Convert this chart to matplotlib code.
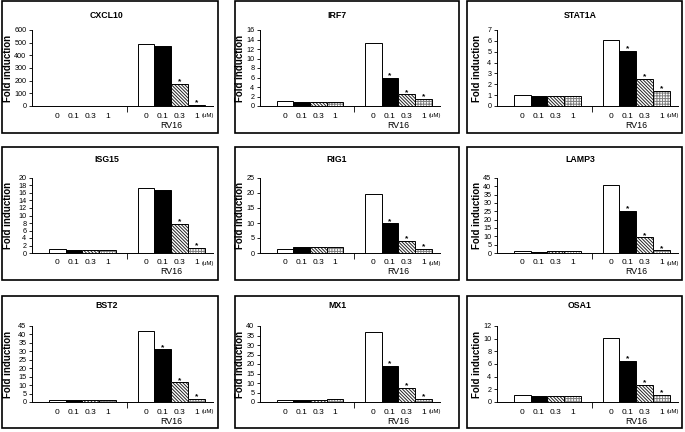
import matplotlib
matplotlib.use('Agg')
import matplotlib.pyplot as plt
from matplotlib.patches import Rectangle
from matplotlib.transforms import offset_copy

plt.rcParams['font.family'] = ['Liberation Sans', 'DejaVu Sans']
plt.rcParams['hatch.linewidth'] = 0.7

# ---------------- data ----------------
genes = ['CXCL10', 'IRF7', 'STAT1A', 'ISG15', 'RIG1', 'LAMP3', 'BST2', 'MX1', 'OSA1']
y_max = [600, 16, 7, 20, 25, 45, 45, 40, 12]
y_step = [100, 2, 1, 2, 5, 5, 5, 5, 2]
doses = ['0', '0.1', '0.3', '1']
group_label = 'RV16'
unit_label = '(uM)'
y_label = 'Fold induction'

mock_values = [
    [1.0, 1.0, 1.0, 1.0],
    [1.1, 0.9, 0.9, 0.9],
    [1.0, 0.93, 0.93, 0.93],
    [1.15, 0.8, 0.8, 0.7],
    [1.3, 2.0, 2.0, 2.0],
    [1.2, 0.6, 1.0, 1.0],
    [1.2, 1.0, 1.3, 1.3],
    [1.2, 0.8, 1.2, 1.5],
    [1.05, 0.9, 0.95, 0.95],
]
rv16_values = [
    [490, 475, 175, 8],
    [13.3, 6.0, 2.45, 1.5],
    [6.1, 5.05, 2.5, 1.4],
    [17.3, 16.9, 7.7, 1.33],
    [19.7, 9.9, 4.0, 1.45],
    [40.6, 25.4, 9.4, 1.6],
    [42.2, 31.1, 11.7, 2.0],
    [36.8, 18.9, 7.4, 1.6],
    [10.15, 6.45, 2.65, 1.15],
]
rv16_signif = [
    [False, False, True, True],
    [False, True, True, True],
    [False, True, True, True],
    [False, False, True, True],
    [False, True, True, True],
    [False, True, True, True],
    [False, True, True, True],
    [False, True, True, True],
    [False, True, True, True],
]

# ---------------- layout ----------------
W, H = 685, 432
fig = plt.figure(figsize=(W / 100, H / 100), dpi=100)

col_box = [(2, 218), (235, 459), (467, 682)]
row_box = [(1, 133), (147, 280), (296, 428)]
col_ax = [(32, 213), (260, 440), (497, 678)]
row_ax = [(30, 106), (178, 253), (326, 402)]
title_y = [15, 160, 306]
title_x = [107, 337, 580]
ylab_x = [8, 240, 477]


def fx(x):
    return x / W


def fy(y):
    return 1 - y / H


bar_fill = ['white', 'black', 'white', 'white']
bar_hatch = [None, None, '\\' * 10, '+' * 6]
hatch_col = [None, None, '#222222', '#808080']

x_end = 10.8
group_start = [1.0, 6.3]
mid_tick = 5.65

for i, gene in enumerate(genes):
    r, c = divmod(i, 3)
    bx0, bx1 = col_box[c]
    by0, by1 = row_box[r]
    fig.add_artist(Rectangle((fx(bx0), fy(by1)), fx(bx1) - fx(bx0), fy(by0) - fy(by1),
                             transform=fig.transFigure, fill=False, lw=1.2, ec='black'))
    ax0, ax1 = col_ax[c]
    ay0, ay1 = row_ax[r]
    ax = fig.add_axes([fx(ax0), fy(ay1), fx(ax1) - fx(ax0), fy(ay0) - fy(ay1)])
    ax.set_xlim(0, x_end)
    ax.set_ylim(0, y_max[i])
    for s in ['top', 'right']:
        ax.spines[s].set_visible(False)
    for s in ['left', 'bottom']:
        ax.spines[s].set_linewidth(0.7)
    ax.set_yticks(list(range(0, y_max[i] + 1, y_step[i])))
    ax.tick_params(axis='y', labelsize=5.2, length=2.5, width=0.6, pad=1.5)
    ax.set_xticks([mid_tick])
    ax.set_xticklabels([''])
    ax.tick_params(axis='x', length=4, width=0.6)

    lab_tr = offset_copy(ax.transData, fig, 0, -10, units='dots')
    for g, vals in enumerate([mock_values[i], rv16_values[i]]):
        xs = [group_start[g] + 0.5 + k for k in range(4)]
        for k in range(4):
            if bar_hatch[k]:
                ax.bar(xs[k], vals[k], width=1, color='white', edgecolor=hatch_col[k],
                       hatch=bar_hatch[k], lw=0)
                ax.bar(xs[k], vals[k], width=1, fill=False, edgecolor='black', lw=0.7)
            else:
                ax.bar(xs[k], vals[k], width=1, color=bar_fill[k], edgecolor='black', lw=0.7)
            ax.text(xs[k], 0, doses[k], transform=lab_tr, ha='center', va='center',
                    fontsize=6, clip_on=False)
            if g == 1 and rv16_signif[i][k]:
                ax.text(xs[k], vals[k], '*', ha='center', va='baseline', fontsize=6,
                        fontweight='bold',
                        transform=offset_copy(ax.transData, fig, 0, 0.5, units='dots'))
        if g == 1:
            ax.text(xs[3], 0, unit_label, ha='left', va='center', fontsize=4.3,
                    transform=offset_copy(ax.transData, fig, 5, -10, units='dots'),
                    clip_on=False)
            ax.text(group_start[1] + 2, 0, group_label, ha='center', va='center', fontsize=6.3,
                    transform=offset_copy(ax.transData, fig, 0, -19, units='dots'),
                    clip_on=False)

    fig.text(fx(title_x[c]), fy(title_y[r]), gene, ha='center', va='center',
             fontsize=6.3, fontweight='bold')
    fig.text(fx(ylab_x[c]), fy((ay0 + ay1) / 2), y_label, rotation=90, ha='center',
             va='center', fontsize=7, fontweight='bold')

fig.savefig('out.png', dpi=100)
